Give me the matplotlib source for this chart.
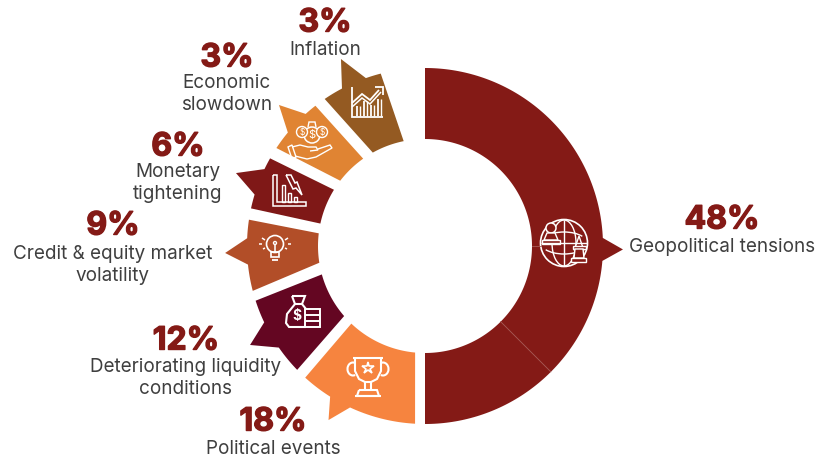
import numpy as np
import matplotlib
matplotlib.use('Agg')
import matplotlib.pyplot as plt
import matplotlib.patheffects as pe
from matplotlib.patches import Polygon, Circle, Rectangle, Arc

# ── data ──────────────────────────────────────────────────────
categories = ["Geopolitical tensions", "Political events", "Deteriorating liquidity\nconditions",
              "Credit & equity market\nvolatility", "Monetary\ntightening", "Economic\nslowdown", "Inflation"]
shares = [48, 18, 12, 9, 6, 3, 3]
colors = ["#841A16", "#F6843F", "#640622", "#B24E28", "#7F1817", "#E08433", "#945A22"]

# sector edges in degrees, clockwise from straight down
outer_start = [180, 3.2, 45.9, 75.4, 102.2, 123.4, 145.7]
outer_end = [360, 42.3, 72.1, 98.5, 119.5, 142.0, 165.6]
inner_start = [180, 5.3, 49.1, 81.0, 102.1, 127.6, 150.8]
inner_end = [360, 43.5, 74.6, 96.8, 121.7, 144.7, 168.5]
# arrow on the outer rim of each sector
notch_a = [267.4, 24.9, 55.2, 84.0, 106.8, 129.6, 152.2]
notch_b = [274.8, 32.2, 64.6, 92.5, 115.6, 137.9, 160.6]
tip_angle = [271.0, 29.0, 60.5, 88.0, 111.1, 134.0, 155.8]
tip_radius = [198, 199, 201, 200, 202.6, 203, 205]

CX, CY = 425, 246
R_OUT, R_IN = 178, 107
DARK_RED = "#841A16"
GREY = "#3F3F3F"
plt.rcParams['font.family'] = ['Inter', 'DejaVu Sans']

fig = plt.figure(figsize=(8.19, 4.58), dpi=100)
ax = fig.add_axes([0, 0, 1, 1])
ax.set_xlim(0, 819); ax.set_ylim(458, 0); ax.axis("off")


def pt(angle, r):
    a = np.radians(angle)
    return CX - r * np.sin(a), CY + r * np.cos(a)


def arc(a0, a1, r):
    n = max(2, int(abs(a1 - a0)) + 2)
    return [pt(a, r) for a in np.linspace(a0, a1, n)]


for i in range(len(shares)):
    verts = arc(outer_start[i], notch_a[i], R_OUT)
    verts.append(pt(tip_angle[i], tip_radius[i]))
    verts += arc(notch_b[i], outer_end[i], R_OUT)
    verts += arc(inner_end[i], inner_start[i], R_IN)
    ax.add_patch(Polygon(verts, closed=True, fc=colors[i], ec="none"))

# faint seams inside the big sector
ax.plot(*zip(pt(315, R_IN), pt(315, R_OUT)), color="#A85C58", lw=0.6)
ax.plot(*zip(pt(270, R_IN), pt(270, R_IN + 9)), color="#A85C58", lw=0.6)


# ── icons ─────────────────────────────────────────────────────
def ln(cx, cy, pts, lw=1.1):
    xs = [cx + p[0] for p in pts]
    ys = [cy + p[1] for p in pts]
    ax.plot(xs, ys, color="white", lw=lw, solid_capstyle="butt", solid_joinstyle="miter")


def circ(cx, cy, x, y, r, lw=1.1, fc="none"):
    ax.add_patch(Circle((cx + x, cy + y), r, fc=fc, ec="white", lw=lw))


def globe_icon(cx, cy):
    circ(cx, cy, 0, 0, 23.5, 1.2)
    ln(cx, cy, [(0, -23), (0, 23)], 1.0)
    ln(cx, cy, [(-23, 0), (23, 0)], 1.0)
    ax.add_patch(Arc((cx, cy), 46, 22, theta1=200, theta2=340, ec="white", lw=1.0))
    ax.add_patch(Arc((cx, cy), 46, 22, theta1=20, theta2=160, ec="white", lw=1.0))
    ax.add_patch(Arc((cx, cy), 24, 46, ec="white", lw=1.0))
    # pawn
    circ(cx, cy, -13, -15, 5, 1.1, DARK_RED)
    ax.add_patch(Polygon([(cx - 17, cy - 10), (cx - 9, cy - 10), (cx - 6, cy - 3), (cx - 20, cy - 3)],
                         fc=DARK_RED, ec="white", lw=1.0))
    ax.add_patch(Rectangle((cx - 22, cy - 3), 18, 3.5, fc=DARK_RED, ec="white", lw=1.0))
    # bishop
    ax.add_patch(Polygon([(cx + 15, cy - 7), (cx + 12, cy + 2), (cx + 10, cy + 7), (cx + 20, cy + 7),
                          (cx + 18, cy + 2)], fc=DARK_RED, ec="white", lw=1.0))
    ax.add_patch(Rectangle((cx + 9, cy + 3), 13, 3, fc=DARK_RED, ec="white", lw=1.0))
    ax.add_patch(Polygon([(cx + 11, cy + 6), (cx + 19, cy + 6), (cx + 20, cy + 15), (cx + 10, cy + 15)],
                         fc=DARK_RED, ec="white", lw=1.0))
    ax.add_patch(Rectangle((cx + 7, cy + 15), 15, 3.5, fc=DARK_RED, ec="white", lw=1.0))


def trophy_icon(cx, cy):
    ln(cx, cy, [(-15, -19), (15, -19)], 1.5)
    ln(cx, cy, [(-13, -19), (-13, -6), (-9, 2), (-3, 5), (3, 5), (9, 2), (13, -6), (13, -19)], 1.5)
    ax.add_patch(Arc((cx - 15, cy - 8), 11, 13, theta1=70, theta2=290, ec="white", lw=1.5))
    ax.add_patch(Arc((cx + 15, cy - 8), 11, 13, theta1=-110, theta2=110, ec="white", lw=1.5))
    ln(cx, cy, [(-3, 5), (-3, 13)], 1.5)
    ln(cx, cy, [(3, 5), (3, 13)], 1.5)
    ln(cx, cy, [(-9, 13), (9, 13), (11, 19), (-11, 19), (-9, 13)], 1.5)
    ln(cx, cy, [(-13, 19), (13, 19)], 1.5)
    ax.plot(cx, cy - 9, marker="*", ms=9, mec="white", mfc="none", mew=1.2)


def bag_icon(cx, cy):
    ln(cx, cy, [(-11, -16), (2, -16), (-1, -8), (-8, -8), (-11, -16)], 1.5)
    ln(cx, cy, [(-8, -8), (-16, 2), (-17, 11), (-14, 15), (3, 15)], 1.5)
    ln(cx, cy, [(-1, -8), (3, -3)], 1.5)
    ax.text(cx - 6, cy + 4, "$", color="white", fontsize=10, fontweight="bold", ha="center", va="center")
    ax.add_patch(Rectangle((cx + 2, cy - 3), 15, 18, fc="none", ec="white", lw=1.4))
    ln(cx, cy, [(2, 3), (17, 3)], 1.4)
    ln(cx, cy, [(2, 9), (17, 9)], 1.4)


def bulb_icon(cx, cy):
    circ(cx, cy, 0, -3, 8.5, 1.2)
    ln(cx, cy, [(0, -3), (0, 5)], 1.1)
    circ(cx, cy, 0, -4, 1.5, 1.0)
    ln(cx, cy, [(-4, 5), (4, 5), (4, 10), (-4, 10), (-4, 5)], 1.2)
    ln(cx, cy, [(-3, 13), (3, 13)], 1.3)
    for seg in [[(-13, -9), (-10, -7)], [(-13, -3), (-16, -3)], [(-12, 2), (-10, 1)],
                [(13, -9), (10, -7)], [(13, -3), (16, -3)], [(12, 2), (10, 1)]]:
        ln(cx, cy, seg, 1.1)


def falling_chart_icon(cx, cy):
    ln(cx, cy, [(-15, -15), (-15, 16), (18, 16), (18, 12), (-11, 12), (-11, -15), (-15, -15)], 1.1)
    ax.add_patch(Rectangle((cx - 6, cy - 5), 3, 17, fc="none", ec="white", lw=1.0))
    ax.add_patch(Rectangle((cx + 0, cy + 3), 3, 9, fc="none", ec="white", lw=1.0))
    ax.add_patch(Rectangle((cx + 6, cy + 7), 3, 5, fc="none", ec="white", lw=1.0))
    ln(cx, cy, [(-2, -15), (3, -15), (7, -7), (9, -8), (14, 5), (8, -2), (5, -1), (-2, -15)], 1.1)


def money_hand_icon(cx, cy):
    circ(cx, cy, 0, -3, 8, 1.1)
    circ(cx, cy, -10, -6, 5.5, 1.0, "#E08433")
    circ(cx, cy, 10, -6, 5.5, 1.0, "#E08433")
    for dx, dy, fs in [(0, -3, 8), (-10, -6, 6), (10, -6, 6)]:
        ax.text(cx + dx, cy + dy, "$", color="white", fontsize=fs, ha="center", va="center")
    ln(cx, cy, [(-4, -11), (-3, -16), (3, -16), (4, -11)], 1.0)
    ax.add_patch(Polygon([(cx - 24, cy + 9), (cx - 20, cy + 7), (cx - 16, cy + 19), (cx - 20, cy + 21)],
                         closed=True, fc="none", ec="white", lw=1.0))
    ln(cx, cy, [(-20, 9), (-12, 7), (-4, 9), (4, 9), (6, 12), (-2, 13)], 1.0)
    ln(cx, cy, [(6, 11), (18, 7), (20, 10), (4, 19), (-5, 21), (-17, 18)], 1.0)


def rising_chart_icon(cx, cy):
    ln(cx, cy, [(-15, -15), (-15, 15), (16, 15)], 1.3)
    for x, top in [(-10, 4), (-3, -1), (4, 3), (11, -3)]:
        ln(cx, cy, [(x, top), (x, 14)], 1.3)
        ln(cx, cy, [(x + 3, top), (x + 3, 14)], 1.0)
    ln(cx, cy, [(-15, 1), (-5, -8), (3, -2), (12, -12)], 1.3)
    ln(cx, cy, [(-15, 5), (-5, -4), (3, 2), (14, -10)], 1.1)
    ln(cx, cy, [(8, -15), (16, -15), (16, -7)], 1.3)


globe_icon(564, 243)
trophy_icon(368, 377)
bag_icon(303, 312)
bulb_icon(275, 247)
falling_chart_icon(288, 190)
money_hand_icon(312, 138)
rising_chart_icon(367, 102)

# ── text ──────────────────────────────────────────────────────
pct_x = [722, 273, 186, 113, 178, 227, 325]
pct_y = [220, 422, 341, 226, 147, 58, 23]
label_y = [247, 449, 367, 254, 172, 83, 50]
for i, cat in enumerate(categories):
    ax.text(pct_x[i], pct_y[i], f"{shares[i]}%", color=DARK_RED, fontsize=23, fontweight="bold",
            ha="center", va="center",
            path_effects=[pe.withStroke(linewidth=1.0, foreground=DARK_RED)])
    for j, part in enumerate(cat.split("\n")):
        ax.text(pct_x[i], label_y[i] + j * 22, part, color=GREY, fontsize=13.6,
                ha="center", va="center")

plt.savefig("out.png", dpi=100)
plt.close()
